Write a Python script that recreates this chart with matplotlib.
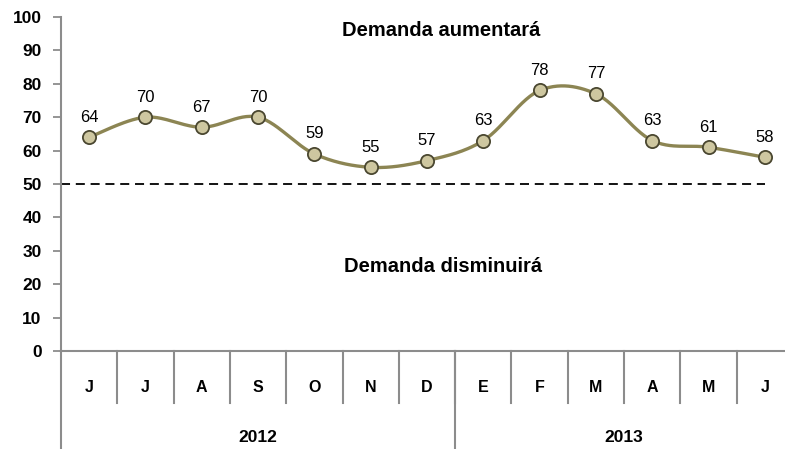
import numpy as np
import matplotlib
matplotlib.use("Agg")
import matplotlib.pyplot as plt
import matplotlib.transforms as mtransforms

plt.rcParams['font.family'] = ['Liberation Sans', 'DejaVu Sans']

meses = ['J', 'J', 'A', 'S', 'O', 'N', 'D', 'E', 'F', 'M', 'A', 'M', 'J']
anios = ['2012', '2013']
meses_por_anio = [7, 6]
valores = [64, 70, 67, 70, 59, 55, 57, 63, 78, 77, 63, 61, 58]
umbral = 50

linea_col = '#8C8553'
marca_col = '#CEC7A0'
borde_col = '#4A4730'
eje_col = '#8C8C8C'

fig = plt.figure(figsize=(7.85, 4.49), dpi=100)
ax = fig.add_axes([61 / 785, 1 - 351 / 449, 732 / 785, 334 / 449])

x = np.arange(len(valores), dtype=float)
y = np.array(valores, dtype=float)

# curva suavizada (Bezier tipo Excel)
pts = np.column_stack([x, y])
ext = np.vstack([pts[0], pts, pts[-1]])
cx, cy = [], []
t = np.linspace(0, 1, 30)
for i in range(len(pts) - 1):
    p0, p1, p2, p3 = ext[i], ext[i + 1], ext[i + 2], ext[i + 3]
    c1 = p1 + (p2 - p0) / 6
    c2 = p2 - (p3 - p1) / 6
    b = ((1 - t) ** 3)[:, None] * p1 + (3 * (1 - t) ** 2 * t)[:, None] * c1 \
        + (3 * (1 - t) * t ** 2)[:, None] * c2 + (t ** 3)[:, None] * p2
    cx.extend(b[:, 0])
    cy.extend(b[:, 1])

ax.plot([-0.5, 12], [umbral, umbral], color='black', lw=1.3, ls=(0, (5, 3.2)), zorder=2)
ax.plot(cx, cy, color=linea_col, lw=2.4, zorder=3, solid_capstyle='round')
ax.plot(x, y, ls='none', marker='o', ms=9.5, mfc=marca_col, mec=borde_col, mew=1.3, zorder=4)

for xi, yi in zip(x, valores):
    ax.annotate(str(yi), (xi, yi), xytext=(0, 9), textcoords='offset points',
                ha='center', va='bottom', fontsize=12, color='black')

fig.text(441 / 785, 1 - 30 / 449, 'Demanda aumentará', ha='center', va='center',
         fontsize=14.5, fontweight='bold')
fig.text(443 / 785, 1 - 267 / 449, 'Demanda disminuirá', ha='center', va='center',
         fontsize=14.5, fontweight='bold')

ax.set_xlim(-0.5, len(valores) - 0.5)
ax.set_ylim(0, 100)
ax.set_yticks(range(0, 101, 10))
ax.tick_params(axis='y', length=6, width=1.3, color=eje_col, labelsize=12.5, pad=8)
for lab in ax.get_yticklabels():
    lab.set_fontweight('bold')
ax.set_xticks([])
for s in ['top', 'right']:
    ax.spines[s].set_visible(False)
for s in ['left', 'bottom']:
    ax.spines[s].set_color(eje_col)
    ax.spines[s].set_linewidth(1.5)

trans = mtransforms.blended_transform_factory(ax.transData, ax.transAxes)
h = 334
for i in range(len(meses) - 1):
    ax.plot([i + 0.5, i + 0.5], [0, -52 / h], transform=trans, color=eje_col, lw=1.5, clip_on=False)
for i, m in enumerate(meses):
    ax.text(i, -36 / h, m, transform=trans, ha='center', va='center', fontsize=11.5, fontweight='bold')

inicio = -0.5
for a, n in zip(anios, meses_por_anio):
    ax.plot([inicio, inicio], [0, -98 / h], transform=trans, color=eje_col, lw=1.5, clip_on=False)
    ax.text(inicio + n / 2, -87 / h, a, transform=trans, ha='center', va='center',
            fontsize=12.5, fontweight='bold')
    inicio += n

fig.savefig('out.png', dpi=100)
